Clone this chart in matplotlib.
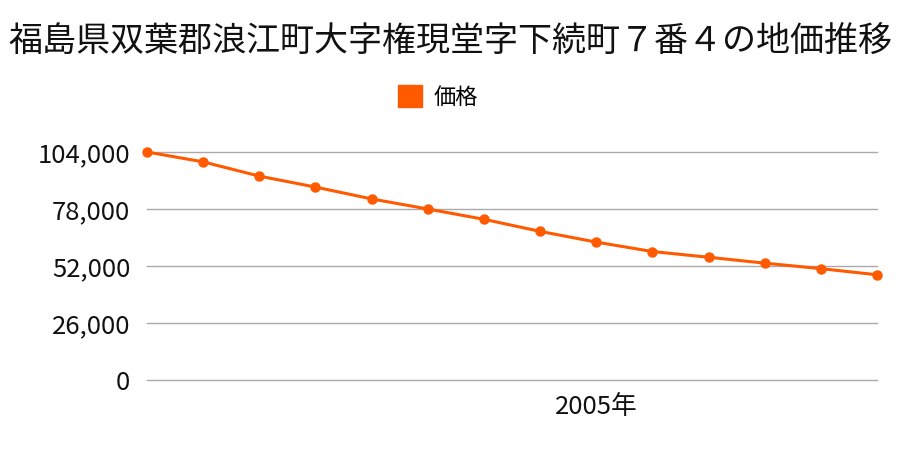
import matplotlib
matplotlib.use("Agg")
import matplotlib.pyplot as plt
from matplotlib.ticker import FuncFormatter
from matplotlib.patches import Patch

plt.rcParams['font.family'] = ['Noto Sans CJK JP', 'DejaVu Sans']

# data
title = "福島県双葉郡浪江町大字権現堂字下続町７番４の地価推移"
series_name = "価格"
years = list(range(1997, 2011))
prices = [104000, 99500, 93000, 88000, 82600, 78000, 73300,
          67800, 62900, 58600, 56000, 53300, 50800, 48000]
yticks = [0, 26000, 52000, 78000, 104000]
xtick_years = [2005]

color = "#ff5a00"

fig = plt.figure(figsize=(9, 4.5), dpi=100)
ax = fig.add_axes([147 / 900, 70 / 450, 730 / 900, 228 / 450])

ax.plot(years, prices, color=color, linewidth=2.2, marker="o",
        markersize=6.5, clip_on=False, zorder=3)

ax.set_xlim(years[0], years[-1])
ax.set_ylim(0, 104000)
ax.set_yticks(yticks)
ax.yaxis.set_major_formatter(FuncFormatter(lambda v, p: f"{int(v):,}"))
ax.set_xticks(xtick_years)
ax.set_xticklabels([f"{y}年" for y in xtick_years])

ax.grid(axis="y", color="#aaaaaa", linewidth=1)
ax.set_axisbelow(True)
for line in ax.get_ygridlines():
    line.set_clip_on(False)
for s in ax.spines.values():
    s.set_visible(False)
ax.tick_params(axis="both", length=0, labelsize=18.5, colors="#111111")
ax.tick_params(axis="y", pad=12)
ax.tick_params(axis="x", pad=10)

fig.suptitle(title, y=1 - 42 / 450, va="center", fontsize=24.5, color="#111111")

# legend sits a bit left of centre in the reference
fig.legend(handles=[Patch(color=color, label=series_name)], loc="center",
           bbox_to_anchor=(438 / 900, 1 - 97 / 450), frameon=False, fontsize=16,
           handlelength=1.1, handleheight=1.1, handletextpad=0.5)

fig.savefig("out.png", dpi=100)
